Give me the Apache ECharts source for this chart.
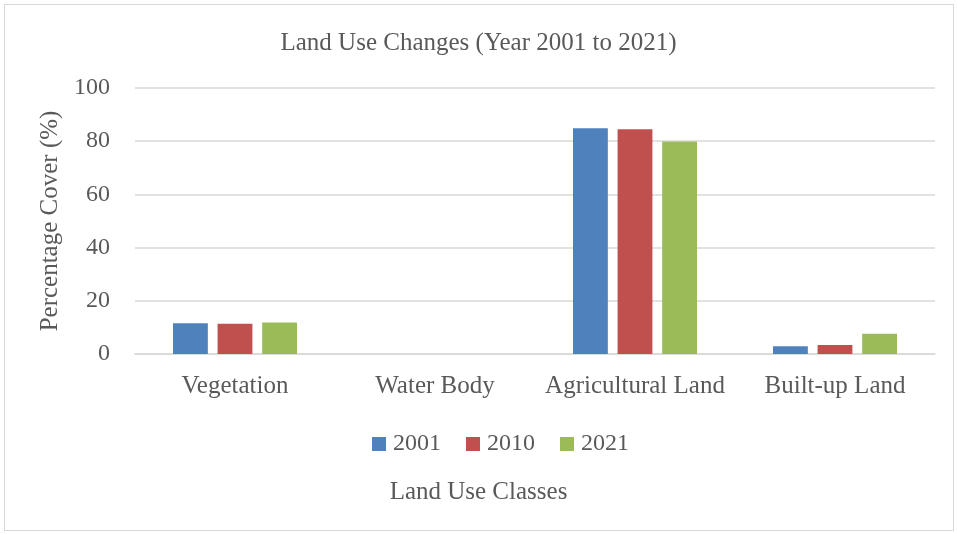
<!DOCTYPE html>
<html>
<head>
<meta charset="utf-8">
<script src="https://cdn.jsdelivr.net/npm/echarts@6/dist/echarts.min.js"></script>
<style>
  html, body { margin: 0; padding: 0; background: #fff; }
  #chart { width: 957px; height: 534px; }
  .frame { position: absolute; left: 4px; top: 4px; width: 948px; height: 525px; border: 1px solid #d9d9d9; pointer-events: none; }
</style>
</head>
<body>
<div id="chart"></div>
<div class="frame"></div>
<script>
const categories = ["Vegetation", "Water Body", "Agricultural Land", "Built-up Land"];
const years = ["2001", "2010", "2021"];
const values2001 = [11.6, 0, 84.9, 2.9];
const values2010 = [11.4, 0, 84.5, 3.4];
const values2021 = [11.8, 0, 79.9, 7.6];
const colors = ["#4f81bd", "#c0504d", "#9bbb59"];

const font = "Liberation Serif";
const textColor = "#595959";

let myChart = echarts.init(document.getElementById("chart"));

let option = {
  textStyle: { fontFamily: font, color: textColor },
  color: colors,
  title: [
    {
      text: "Land Use Changes (Year 2001 to 2021)",
      left: "center",
      top: 26,
      textStyle: { fontFamily: font, color: textColor, fontSize: 25, fontWeight: "normal" },
    },
    {
      // x axis title sits under the legend, centred on the whole chart
      text: "Land Use Classes",
      left: "center",
      top: 475,
      textStyle: { fontFamily: font, color: textColor, fontSize: 25, fontWeight: "normal" },
    },
  ],
  legend: {
    top: 427,
    left: 367,
    itemWidth: 14,
    itemHeight: 14,
    itemGap: 25,
    icon: "rect",
    textStyle: { fontFamily: font, color: textColor, fontSize: 24, padding: [0, 0, 0, 2] },
    data: years,
  },
  grid: {
    left: 135,
    right: 22,
    top: 88,
    bottom: 180,
  },
  xAxis: {
    type: "category",
    data: categories,
    axisLine: { lineStyle: { color: "#d9d9d9", width: 1.5 } },
    axisTick: { show: false },
    axisLabel: { interval: 0, fontFamily: font, color: textColor, fontSize: 25, margin: 20 },
  },
  yAxis: {
    type: "value",
    min: 0,
    max: 100,
    interval: 20,
    name: "Percentage Cover (%)",
    nameLocation: "middle",
    nameGap: 67,
    nameTextStyle: { fontFamily: font, color: textColor, fontSize: 25 },
    axisLine: { show: false },
    axisTick: { show: false },
    axisLabel: { fontFamily: font, color: textColor, fontSize: 24, margin: 25 },
    splitLine: { lineStyle: { color: "#d9d9d9", width: 1.5 } },
  },
  series: [
    { name: years[0], type: "bar", data: values2001, barGap: "28%", barCategoryGap: "38%" },
    { name: years[1], type: "bar", data: values2010, barGap: "28%", barCategoryGap: "38%" },
    { name: years[2], type: "bar", data: values2021, barGap: "28%", barCategoryGap: "38%" },
  ],
};

myChart.setOption(option);
</script>
</body>
</html>
